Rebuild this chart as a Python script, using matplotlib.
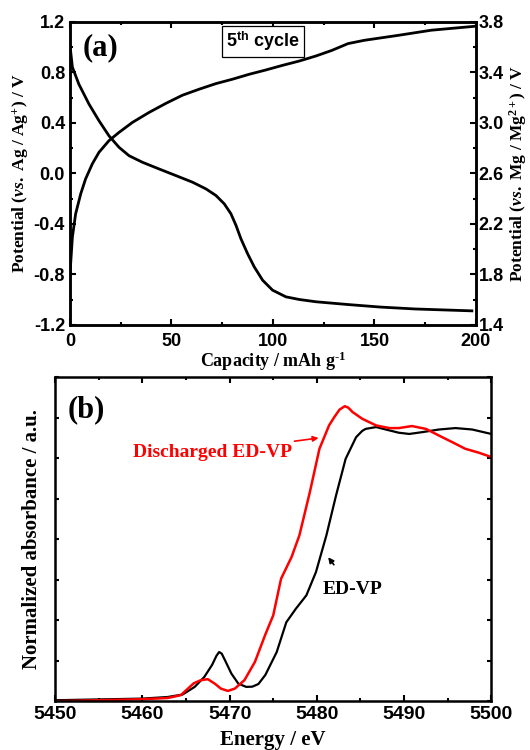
import numpy as np
import matplotlib
matplotlib.use("Agg")
import matplotlib.pyplot as plt
from matplotlib.ticker import MultipleLocator, NullFormatter

# (a) galvanostatic curves, 5th cycle
cap_charge = [0, 1.2, 2.8, 5.3, 7.7, 11, 14.3, 19.2, 24.2, 30.8, 39, 47.2, 55.4, 63.7,
              71.9, 80.1, 88.3, 96.5, 104.8, 113, 121.2, 129, 137, 145, 162, 178, 200]
pot_charge = [-0.8, -0.505, -0.321, -0.163, -0.045, 0.074, 0.166, 0.258, 0.324, 0.403,
              0.482, 0.553, 0.618, 0.666, 0.71, 0.745, 0.784, 0.818, 0.855, 0.889,
              0.929, 0.973, 1.027, 1.053, 1.093, 1.133, 1.165]
cap_dis = [0.3, 1.2, 4.4, 9.4, 14.3, 19.2, 24.2, 29.1, 35.7, 43.9, 52.1, 60.4, 67,
           71.9, 76, 79.3, 81.8, 84.2, 87.5, 90.8, 94.9, 99.8, 106.4, 113, 121.2, 137,
           153, 170, 198]
pot_dis = [0.97, 0.84, 0.705, 0.547, 0.416, 0.297, 0.205, 0.139, 0.087, 0.034, -0.018,
           -0.071, -0.124, -0.176, -0.242, -0.321, -0.413, -0.518, -0.637, -0.742,
           -0.847, -0.926, -0.979, -1.0, -1.018, -1.04, -1.06, -1.075, -1.09]

# (b) XANES spectra
e_black = [5450, 5460, 5462.9, 5464.6, 5466, 5467.1, 5468.0, 5468.5, 5468.8, 5469.1,
           5469.5, 5470.2, 5471, 5471.9, 5472.6, 5473.3, 5474.1, 5475.4, 5476.5, 5477.6,
           5478.8, 5479.9, 5481.1, 5482.2, 5483.3, 5484.5, 5485.2, 5485.6, 5486.8,
           5487.9, 5489.4, 5490.6, 5492.1, 5494, 5495.9, 5497.8, 5500]
a_black = [0.005, 0.013, 0.021, 0.033, 0.071, 0.12, 0.18, 0.225, 0.243, 0.235, 0.2,
           0.137, 0.087, 0.071, 0.072, 0.085, 0.13, 0.243, 0.39, 0.457, 0.523, 0.638,
           0.82, 1.016, 1.197, 1.304, 1.335, 1.345, 1.354, 1.342, 1.326, 1.32, 1.329,
           1.342, 1.349, 1.342, 1.32]
e_red = [5450, 5460, 5462.9, 5464.4, 5465.9, 5466.7, 5467.5, 5468.3, 5469.0, 5469.8,
         5470.6, 5471.7, 5472.9, 5474.1, 5475, 5475.9, 5477.1, 5478, 5479.2, 5480.3,
         5481.4, 5482, 5482.6, 5483.2, 5483.6, 5484.1, 5485.2, 5486.8, 5488.3, 5489.4,
         5490.9, 5492.5, 5494, 5495.5, 5497, 5498.6, 5500]
a_red = [0.0, 0.01, 0.016, 0.03, 0.089, 0.104, 0.109, 0.087, 0.0625, 0.051, 0.0625,
         0.104, 0.194, 0.33, 0.424, 0.605, 0.712, 0.819, 1.033, 1.247, 1.362, 1.403,
         1.44, 1.457, 1.45, 1.428, 1.395, 1.362, 1.349, 1.349, 1.359, 1.345, 1.312,
         1.28, 1.247, 1.227, 1.206]

plt.rcParams['font.family'] = 'Liberation Sans'
plt.rcParams['font.weight'] = 'bold'
plt.rcParams['axes.unicode_minus'] = False
plt.rcParams['mathtext.fontset'] = 'custom'
plt.rcParams['mathtext.rm'] = 'Liberation Serif:bold'
plt.rcParams['mathtext.it'] = 'Liberation Serif:italic:bold'
plt.rcParams['mathtext.bf'] = 'Liberation Serif:bold'
plt.rcParams['mathtext.sf'] = 'Liberation Sans:bold'

serif = dict(family='Liberation Serif', weight='bold')
sans = dict(family='Liberation Sans', weight='bold')

fig = plt.figure(figsize=(5.3, 7.5), dpi=100)

def style(ax, size):
    for s in ax.spines.values():
        s.set_linewidth(1.8)
    ax.tick_params(which='both', direction='in', width=1.5, top=True)
    ax.tick_params(which='major', length=4.5, labelsize=size)
    ax.tick_params(which='minor', length=2.5)

# ---- panel (a)
ax1 = fig.add_axes([0.132, 0.567, 0.766, 0.404])
ax1.plot(cap_charge, pot_charge, color='black', lw=2.0, solid_joinstyle='round')
ax1.plot(cap_dis, pot_dis, color='black', lw=2.0, solid_joinstyle='round')
ax1.set_xlim(0, 200)
ax1.set_ylim(-1.2, 1.2)
ax1.xaxis.set_major_locator(MultipleLocator(50))
ax1.xaxis.set_minor_locator(MultipleLocator(25))
ax1.yaxis.set_major_locator(MultipleLocator(0.4))
ax1.yaxis.set_minor_locator(MultipleLocator(0.2))
ax1.yaxis.set_major_formatter(plt.FormatStrFormatter('%.1f'))
ax1.set_xlabel(r'Capacity / mAh g$^{\text{-1}}$', fontsize=13, labelpad=0, **serif)
ax1.set_ylabel(r'Potential ($\it{vs.}$ Ag / Ag$^{+}$) / V', fontsize=12.5, labelpad=2, **serif)
style(ax1, 13)
ax1.tick_params(axis='y', which='both', right=False)
ax1.tick_params(axis='x', which='major', pad=6)

ax1r = ax1.twinx()
ax1r.set_ylim(1.4, 3.8)
ax1r.set_yticks(np.arange(1.4, 3.81, 0.4))
ax1r.set_yticks(np.arange(1.6, 3.7, 0.4), minor=True)
ax1r.yaxis.set_major_formatter(plt.FormatStrFormatter('%.1f'))
ax1r.set_ylabel(r'Potential ($\it{vs.}$ Mg / Mg$^{2+}$) / V', fontsize=12.5, labelpad=2, **serif)
style(ax1r, 13)
ax1r.tick_params(which='both', pad=2)

ax1.text(0.074, 0.914, '(a)', transform=ax1.transAxes, ha='center', va='center',
         fontsize=22, **serif)
ax1.text(0.475, 0.934, r'5$^{\mathsf{th}}$ cycle', transform=ax1.transAxes, ha='center',
         va='center', fontsize=13, **sans,
         bbox=dict(boxstyle='square,pad=0.22', fc='white', ec='black', lw=0.9))

# ---- panel (b)
ax2 = fig.add_axes([0.104, 0.065, 0.823, 0.432])
ax2.plot(e_black, a_black, color='black', lw=1.6, solid_joinstyle='round')
ax2.plot(e_red, a_red, color='#ff0000', lw=1.8, solid_joinstyle='round')
ax2.set_xlim(5450, 5500)
ax2.set_ylim(0, 1.6)
ax2.xaxis.set_major_locator(MultipleLocator(10))
ax2.xaxis.set_minor_locator(MultipleLocator(5))
ax2.yaxis.set_major_locator(MultipleLocator(0.2))
ax2.yaxis.set_major_formatter(NullFormatter())
ax2.tick_params(axis='y', right=True)
style(ax2, 14)
ax2.tick_params(axis='y', which='major', length=3)
ax2.set_xlabel('Energy / eV', fontsize=15, labelpad=5, **serif)
ax2.set_ylabel('Normalized absorbance / a.u.', fontsize=15, labelpad=6, **serif)

ax2.text(0.071, 0.90, '(b)', transform=ax2.transAxes, ha='center', va='center',
         fontsize=22, **serif)
ax2.annotate('Discharged ED-VP', xy=(5480.2, 1.30), xytext=(5468.0, 1.23),
             ha='center', va='center', color='#ff0000', fontsize=14, **serif,
             arrowprops=dict(arrowstyle='-|>', color='#ff0000', lw=1.2,
                             mutation_scale=8, shrinkA=0, shrinkB=0))
ax2.annotate('ED-VP', xy=(5481.3, 0.711), xytext=(5484.1, 0.553),
             ha='center', va='center', color='black', fontsize=14, **serif,
             arrowprops=dict(arrowstyle='-|>', color='black', lw=1.2,
                             mutation_scale=8, shrinkA=12, shrinkB=0))

fig.savefig('out.png', dpi=100)
